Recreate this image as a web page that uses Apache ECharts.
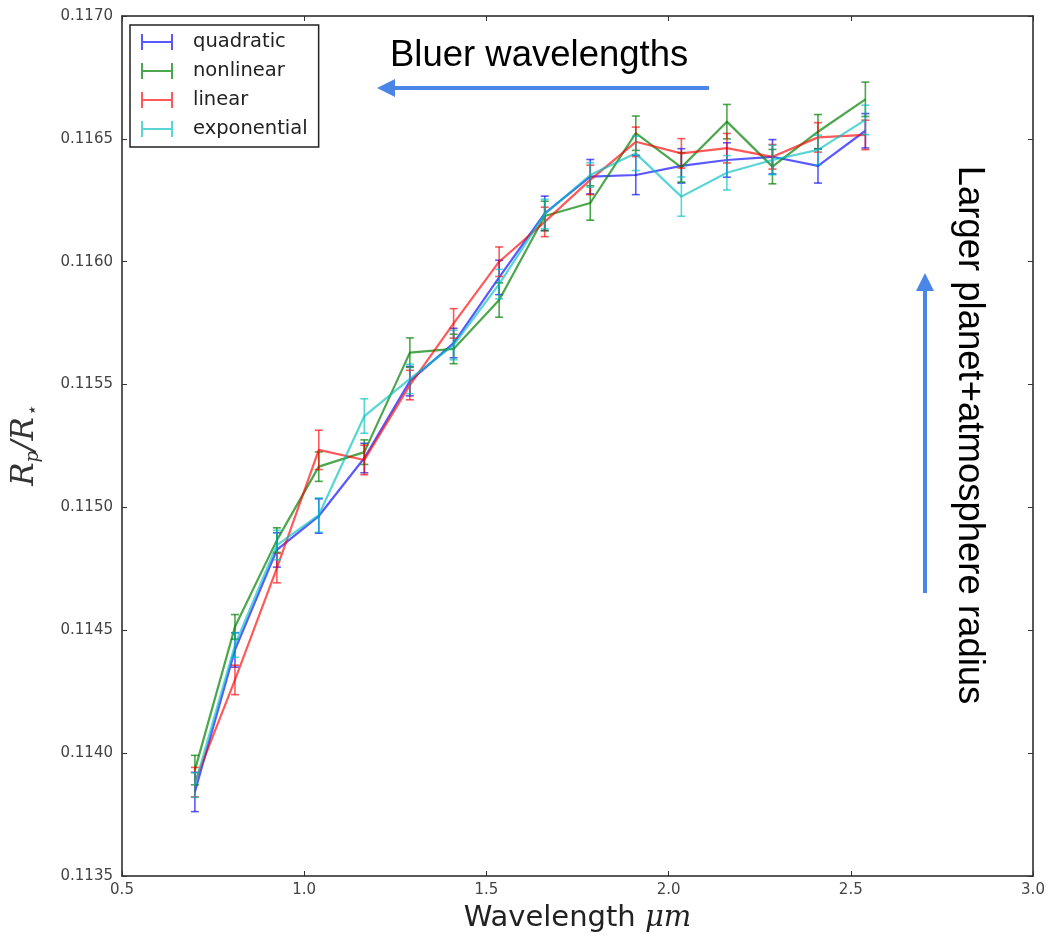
<!DOCTYPE html>
<html>
<head>
<meta charset="utf-8">
<script src="https://cdn.jsdelivr.net/npm/echarts@6/dist/echarts.min.js"></script>
<style>html,body{margin:0;padding:0;background:#fff;}#c{width:1048px;height:939px;}</style>
</head>
<body>
<div id="c"></div>
<script>
const wavelength = [0.70, 0.81, 0.925, 1.04, 1.165, 1.29, 1.41, 1.535, 1.66, 1.785, 1.91, 2.035, 2.16, 2.285, 2.41, 2.54];
const quadratic = [0.113842, 0.114420, 0.114827, 0.114965, 0.115201, 0.115514, 0.115669, 0.115936, 0.116197, 0.116346, 0.116353, 0.116390, 0.116414, 0.116427, 0.116390, 0.116533];
const nonlinear = [0.113931, 0.114514, 0.114867, 0.115166, 0.115225, 0.115630, 0.115645, 0.115844, 0.116186, 0.116239, 0.116523, 0.116384, 0.116570, 0.116387, 0.116529, 0.116661];
const linear = [0.113882, 0.114298, 0.114753, 0.115234, 0.115193, 0.115498, 0.115749, 0.116000, 0.116162, 0.116333, 0.116488, 0.116441, 0.116462, 0.116427, 0.116506, 0.116516];
const exponential = [0.113870, 0.114440, 0.114847, 0.114969, 0.115372, 0.115523, 0.115661, 0.115909, 0.116194, 0.116353, 0.116441, 0.116265, 0.116362, 0.116414, 0.116455, 0.116577];
const errQuadratic = [0.00008, 0.00007, 0.00007, 0.00007, 0.00006, 0.00006, 0.00006, 0.00007, 0.00007, 0.00007, 0.00008, 0.00007, 0.00007, 0.00007, 0.00007, 0.00007];
const errNonlinear = [0.00006, 0.00005, 0.00005, 0.00006, 0.00005, 0.00006, 0.00006, 0.00007, 0.00006, 0.00007, 0.00007, 0.00006, 0.00007, 0.00007, 0.00007, 0.00007];
const errLinear = [0.00006, 0.00006, 0.00006, 0.00008, 0.00006, 0.00006, 0.00006, 0.00006, 0.00006, 0.00006, 0.00006, 0.00006, 0.00006, 0.00005, 0.00006, 0.00006];
const errExponential = [0.00005, 0.00005, 0.00006, 0.00007, 0.00007, 0.00006, 0.00006, 0.00006, 0.00006, 0.00005, 0.00007, 0.00008, 0.00007, 0.00006, 0.00006, 0.00006];
const seriesNames = ['quadratic', 'nonlinear', 'linear', 'exponential'];
const xTicks = { min: 0.5, max: 3.0, step: 0.5 };
const yTicks = { min: 0.1135, max: 0.1170, step: 0.0005 };

const colors = ['rgba(0,0,255,0.65)', 'rgba(0,128,0,0.7)', 'rgba(255,0,0,0.65)', 'rgba(0,191,191,0.65)'];
const values = [quadratic, nonlinear, linear, exponential];
const errs = [errQuadratic, errNonlinear, errLinear, errExponential];

const series = [];
seriesNames.forEach((name, k) => {
  series.push({
    name: name, type: 'line', xAxisIndex: 0, yAxisIndex: 0,
    data: wavelength.map((x, i) => [x, values[k][i]]),
    showSymbol: false, symbol: 'none', silent: true,
    lineStyle: { color: colors[k], width: 2.2 }, itemStyle: { color: colors[k] },
    z: 2 + k * 2
  });
  series.push({
    name: name, type: 'custom', xAxisIndex: 0, yAxisIndex: 0,
    data: wavelength.map((x, i) => [x, values[k][i] - errs[k][i], values[k][i] + errs[k][i]]),
    encode: { x: 0, y: [1, 2] }, silent: true, itemStyle: { color: colors[k] },
    z: 3 + k * 2,
    renderItem: function (params, api) {
      const lo = api.coord([api.value(0), api.value(1)]);
      const hi = api.coord([api.value(0), api.value(2)]);
      const w = 4;
      const st = { stroke: colors[k], lineWidth: 1.6, fill: null };
      return { type: 'group', children: [
        { type: 'line', shape: { x1: lo[0], y1: lo[1], x2: hi[0], y2: hi[1] }, style: st },
        { type: 'line', shape: { x1: lo[0] - w, y1: lo[1], x2: lo[0] + w, y2: lo[1] }, style: st },
        { type: 'line', shape: { x1: hi[0] - w, y1: hi[1], x2: hi[0] + w, y2: hi[1] }, style: st }
      ]};
    }
  });
});

const axisLine = { show: true, lineStyle: { color: '#222', width: 1.5 } };
const tickStyle = { show: true, inside: true, length: 5, lineStyle: { color: '#333', width: 1 } };
const labelFont = { fontFamily: 'DejaVu Sans', fontSize: 15, color: '#444' };

const chart = echarts.init(document.getElementById('c'), null, { renderer: 'canvas' });
chart.setOption({
  animation: false,
  backgroundColor: '#fff',
  grid: { left: 121, top: 16, right: 15, bottom: 63, containLabel: false },
  legend: {
    left: 130, top: 25, orient: 'vertical',
    data: seriesNames.map((n, k) => ({ name: n, itemStyle: { color: colors[k] } })),
    icon: 'path://M0,0H2V16H0Z M2,7H30V9H2Z M30,0H32V16H30Z',
    itemWidth: 32, itemHeight: 16, itemGap: 9,
    padding: [7, 11, 8, 11],
    borderColor: '#222', borderWidth: 1.5, backgroundColor: '#fff',
    textStyle: { fontFamily: 'DejaVu Sans', fontSize: 19.5, color: '#222', padding: [0, 0, 0, 15] },
    selectedMode: false
  },
  xAxis: [{
    type: 'value', min: xTicks.min, max: xTicks.max, interval: xTicks.step, position: 'bottom',
    axisLine: axisLine, axisTick: tickStyle, splitLine: { show: false },
    axisLabel: Object.assign({ margin: 7, formatter: v => v.toFixed(1) }, labelFont),
    name: '{a|Wavelength }{b|μm}', nameLocation: 'middle', nameGap: 28,
    nameTextStyle: { rich: {
      a: { fontFamily: 'DejaVu Sans', fontSize: 29, color: '#222' },
      b: { fontFamily: 'DejaVu Serif', fontStyle: 'italic', fontSize: 29, color: '#222' }
    } }
  }, {
    type: 'value', min: xTicks.min, max: xTicks.max, interval: xTicks.step, position: 'top',
    axisLine: axisLine, axisTick: tickStyle, splitLine: { show: false }, axisLabel: { show: false }
  }],
  yAxis: [{
    type: 'value', min: yTicks.min, max: yTicks.max, interval: yTicks.step, position: 'left',
    axisLine: axisLine, axisTick: tickStyle, splitLine: { show: false },
    axisLabel: Object.assign({ margin: 9, formatter: v => v.toFixed(4) }, labelFont),
    name: '{i|R}{s|p}{i|/R}{s|⋆}', nameLocation: 'middle', nameGap: 80,
    nameTextStyle: { rich: {
      i: { fontFamily: 'DejaVu Serif', fontStyle: 'italic', fontSize: 31, color: '#333', lineHeight: 34 },
      s: { fontFamily: 'DejaVu Serif', fontStyle: 'italic', fontSize: 18, color: '#333', padding: [16, 0, 0, 0], lineHeight: 34 }
    } }
  }, {
    type: 'value', min: yTicks.min, max: yTicks.max, interval: yTicks.step, position: 'right',
    axisLine: axisLine, axisTick: tickStyle, splitLine: { show: false }, axisLabel: { show: false }
  }],
  series: series,
  graphic: [
    { type: 'text', left: 390, top: 37, z: 100, style: { text: 'Bluer wavelengths', font: '36.5px "Liberation Sans"', fill: '#000' } },
    { type: 'line', z: 100, shape: { x1: 709, y1: 88, x2: 392, y2: 88 }, style: { stroke: '#4a86e8', lineWidth: 4 } },
    { type: 'polygon', z: 100, shape: { points: [[377, 88], [395, 79], [395, 97]] }, style: { fill: '#4a86e8' } },
    { type: 'text', z: 100, x: 969, y: 435, rotation: -Math.PI / 2,
      style: { text: 'Larger planet+atmosphere radius', font: '36.5px "Liberation Sans"', fill: '#000', align: 'center', verticalAlign: 'middle' } },
    { type: 'line', z: 100, shape: { x1: 925, y1: 593, x2: 925, y2: 290 }, style: { stroke: '#4a86e8', lineWidth: 4 } },
    { type: 'polygon', z: 100, shape: { points: [[925, 273], [916, 291], [934, 291]] }, style: { fill: '#4a86e8' } }
  ]
});
</script>
</body>
</html>
